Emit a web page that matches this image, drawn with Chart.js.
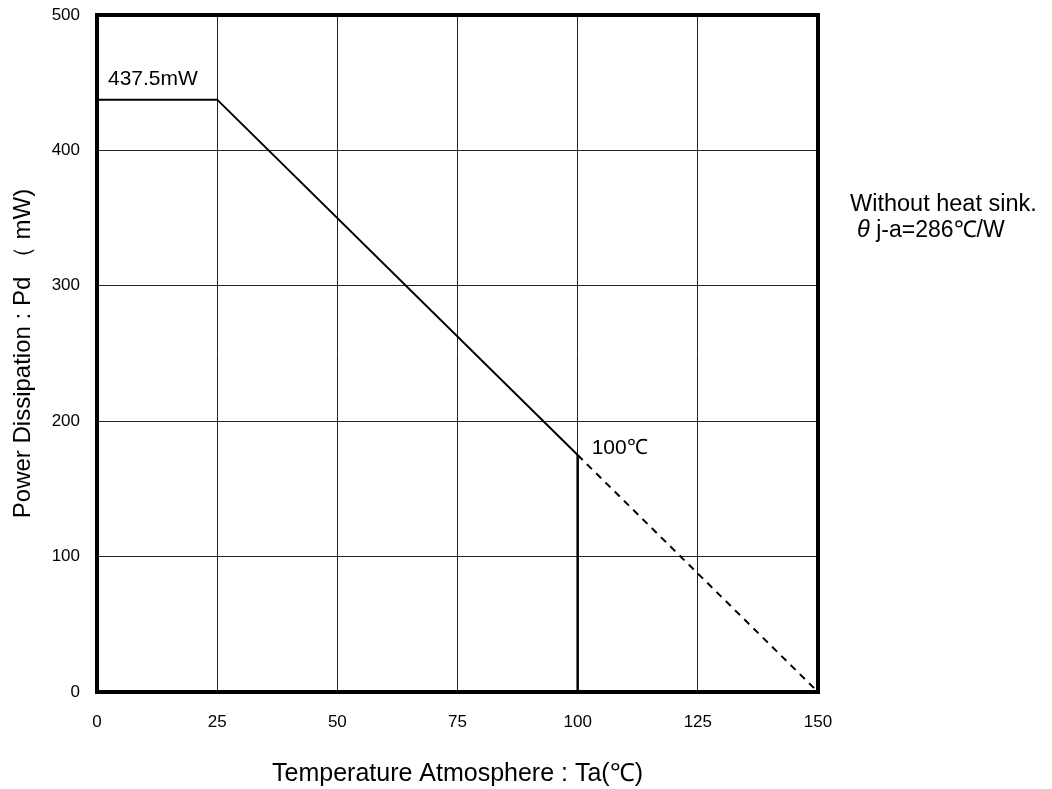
<!DOCTYPE html>
<html>
<head>
<meta charset="utf-8">
<script src="https://cdn.jsdelivr.net/npm/chart.js@4.4.1/dist/chart.umd.min.js"></script>
<style>
html,body{margin:0;padding:0;background:#fff;}
canvas{display:block;}
</style>
</head>
<body>
<canvas id="c" width="1052" height="789"></canvas>
<script>
// ---- data ----
const temps = [0, 25, 100, 150];          // Ta (°C)
const power = [437.5, 437.5, 175, 0];     // Pd (mW)
const xTicks = [0, 25, 50, 75, 100, 125, 150];
const yTicks = [0, 100, 200, 300, 400, 500];
const xTitle = 'Temperature Atmosphere : Ta(\u2103)';
const yTitle = 'Power Dissipation : Pd \uFF08 mW)';
const maxLabel = '437.5mW';
const limitLabel = '100\u2103';
const noteLine1 = 'Without heat sink.';
const noteLine2a = '\u03B8';
const noteLine2b = ' j-a=286\u2103/W';

const FONT = '"Liberation Sans", Arial, sans-serif';

const solidPts = temps.slice(0, 3).map((t, i) => ({x: t, y: power[i]}));
const dashPts = temps.slice(2).map((t, i) => ({x: t, y: power[i + 2]}));
const dropPts = [{x: temps[2], y: 0}, {x: temps[2], y: power[2]}];

const framePlugin = {
  id: 'frame',
  afterDatasetsDraw(chart) {
    const {ctx, chartArea: a, scales} = chart;
    const xs = scales.x, ys = scales.y;
    ctx.save();
    ctx.strokeStyle = '#000';
    ctx.lineWidth = 4;
    ctx.strokeRect(a.left, a.top, a.right - a.left, a.bottom - a.top);
    ctx.fillStyle = '#000';
    ctx.textBaseline = 'alphabetic';
    ctx.textAlign = 'left';
    ctx.font = '21px ' + FONT;
    ctx.fillText(maxLabel, xs.getPixelForValue(temps[0]) + 11, ys.getPixelForValue(power[0]) - 15);
    ctx.fillText(limitLabel, xs.getPixelForValue(temps[2]) + 14, ys.getPixelForValue(power[2]) - 1);
    ctx.font = '23.5px ' + FONT;
    ctx.fillText(noteLine1, a.right + 32, 211);
    ctx.font = 'italic 23.5px ' + FONT;
    const x2 = a.right + 39;
    ctx.fillText(noteLine2a, x2, 237);
    const w = ctx.measureText(noteLine2a).width;
    ctx.font = '23px ' + FONT;
    ctx.fillText(noteLine2b, x2 + w, 237);
    ctx.restore();
  }
};

new Chart(document.getElementById('c'), {
  type: 'scatter',
  data: {
    datasets: [
      {data: solidPts, showLine: true, borderColor: '#000', borderWidth: 2, pointRadius: 0, fill: false},
      {data: dashPts, showLine: true, borderColor: '#000', borderWidth: 2, borderDash: [7, 6], pointRadius: 0, fill: false},
      {data: dropPts, showLine: true, borderColor: '#000', borderWidth: 2.5, pointRadius: 0, fill: false}
    ]
  },
  options: {
    responsive: false,
    animation: false,
    layout: {padding: {left: 0, right: 234, top: 15, bottom: 0}},
    plugins: {legend: {display: false}, tooltip: {enabled: false}},
    scales: {
      x: {
        type: 'linear', min: 0, max: 150,
        afterFit(s) { s.height = 97; s.paddingLeft = 0; s.paddingRight = 0; },
        afterBuildTicks(s) { s.ticks = xTicks.map(v => ({value: v})); },
        grid: {color: '#222', lineWidth: 1, drawTicks: false},
        border: {display: false},
        ticks: {color: '#000', padding: 20, font: {family: FONT, size: 17}, maxRotation: 0},
        title: {display: true, text: xTitle, color: '#000', font: {family: FONT, size: 25}, padding: {top: 3, bottom: 0}}
      },
      y: {
        type: 'linear', min: 0, max: 500,
        afterFit(s) { s.width = 97; s.paddingTop = 0; s.paddingBottom = 0; },
        afterBuildTicks(s) { s.ticks = yTicks.map(v => ({value: v})); },
        grid: {color: '#222', lineWidth: 1, drawTicks: false},
        border: {display: false},
        ticks: {color: '#000', padding: 17, font: {family: FONT, size: 17}},
        title: {display: true, text: yTitle, color: '#000', font: {family: FONT, size: 24}, padding: {top: 9, bottom: 0}}
      }
    }
  },
  plugins: [framePlugin]
});
</script>
</body>
</html>
